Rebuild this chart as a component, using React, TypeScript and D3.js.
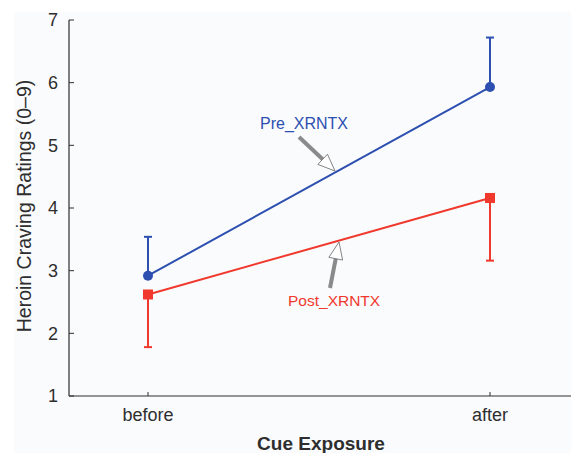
import React from 'react';
import * as d3 from 'd3';

const categories = ['before', 'after'];
const preMeans = [2.92, 5.93];
const preErr = [0.62, 0.79];
const postMeans = [2.62, 4.16];
const postErr = [0.84, 1.0];
const yTicks = [1, 2, 3, 4, 5, 6, 7];

const W = 571;
const H = 453;
const left = 69;
const top = 20;
const bottom = 396;

const BLUE = '#2c4fb0';
const RED = '#f0392c';
const AXIS = '#2e2e2e';
const FONT = '"Liberation Sans", Arial, sans-serif';

const App = () => {
  const x = d3.scalePoint<string>().domain(categories).range([148, 490]);
  const y = d3.scaleLinear().domain([1, 7]).range([bottom, top]);
  const line = d3.line<number>().x((_, i) => x(categories[i])!).y(d => y(d));

  // arrow: grey shaft with an open white triangle head ending at the tip
  const arrow = (x1: number, y1: number, x2: number, y2: number) => {
    const dx = x2 - x1, dy = y2 - y1;
    const len = Math.hypot(dx, dy);
    const ux = dx / len, uy = dy / len;
    const headL = 17, headW = 7;
    const bx = x2 - ux * headL, by = y2 - uy * headL;
    const px = -uy, py = ux;
    const tri = `M${x2},${y2} L${bx + px * headW},${by + py * headW} L${bx - px * headW},${by - py * headW} Z`;
    return (
      <g>
        <line x1={x1} y1={y1} x2={bx} y2={by} stroke="#8a8a8a" strokeWidth={4} />
        <path d={tri} fill="#fff" stroke="#666" strokeWidth={0.8} />
      </g>
    );
  };

  return (
    <svg width={W} height={H} style={{ position: 'absolute', left: 0, top: 0 }} fontFamily={FONT}>
      <rect x={0} y={0} width={W} height={H} fill="#fff" />
      <rect x={14} y={12} width={W - 14} height={H - 12} fill="#fafbfd" />

      {/* axes */}
      <line x1={left} y1={top} x2={left} y2={bottom} stroke={AXIS} strokeWidth={1.2} />
      <line x1={left} y1={bottom} x2={W} y2={bottom} stroke={AXIS} strokeWidth={1.2} />
      {yTicks.map(t => (
        <g key={t}>
          <line x1={left} x2={left + 5} y1={y(t)} y2={y(t)} stroke={AXIS} strokeWidth={1} />
          <text x={left - 11} y={y(t)} dy="0.36em" textAnchor="end" fontSize={18} fill={AXIS}>{t}</text>
        </g>
      ))}
      {categories.map(c => (
        <g key={c}>
          <line x1={x(c)} x2={x(c)} y1={bottom} y2={bottom - 4} stroke={AXIS} strokeWidth={1} />
          <text x={x(c)} y={421} textAnchor="middle" fontSize={18} fill={AXIS}>{c}</text>
        </g>
      ))}
      <text transform={`translate(31,${(top + bottom) / 2 - 2}) rotate(-90)`} textAnchor="middle" fontSize={19.5} fill={AXIS}>
        Heroin Craving Ratings (0–9)
      </text>
      <text x={321} y={450} textAnchor="middle" fontSize={19} fontWeight="bold" fill={AXIS}>Cue Exposure</text>

      {/* error bars */}
      {preMeans.map((m, i) => {
        const cx = x(categories[i])!;
        return (
          <g key={'pe' + i} stroke={BLUE} strokeWidth={2}>
            <line x1={cx} x2={cx} y1={y(m)} y2={y(m + preErr[i])} />
            <line x1={cx - 4} x2={cx + 4} y1={y(m + preErr[i])} y2={y(m + preErr[i])} />
          </g>
        );
      })}
      {postMeans.map((m, i) => {
        const cx = x(categories[i])!;
        return (
          <g key={'qe' + i} stroke={RED} strokeWidth={2}>
            <line x1={cx} x2={cx} y1={y(m)} y2={y(m - postErr[i])} />
            <line x1={cx - 4} x2={cx + 4} y1={y(m - postErr[i])} y2={y(m - postErr[i])} />
          </g>
        );
      })}

      <path d={line(postMeans)!} fill="none" stroke={RED} strokeWidth={2} />
      <path d={line(preMeans)!} fill="none" stroke={BLUE} strokeWidth={2} />
      {preMeans.map((m, i) => (
        <circle key={'pc' + i} cx={x(categories[i])} cy={y(m)} r={5} fill={BLUE} />
      ))}
      {postMeans.map((m, i) => (
        <rect key={'qr' + i} x={x(categories[i])! - 5} y={y(m) - 5} width={10} height={10} fill={RED} />
      ))}

      {/* annotations */}
      <text x={260} y={129} fontSize={16} fill={BLUE}>Pre_XRNTX</text>
      {arrow(299, 137, 335, 171)}
      <text x={288} y={306} fontSize={15.5} fill={RED}>Post_XRNTX</text>
      {arrow(330, 288, 339, 242)}
    </svg>
  );
};

export default App;
